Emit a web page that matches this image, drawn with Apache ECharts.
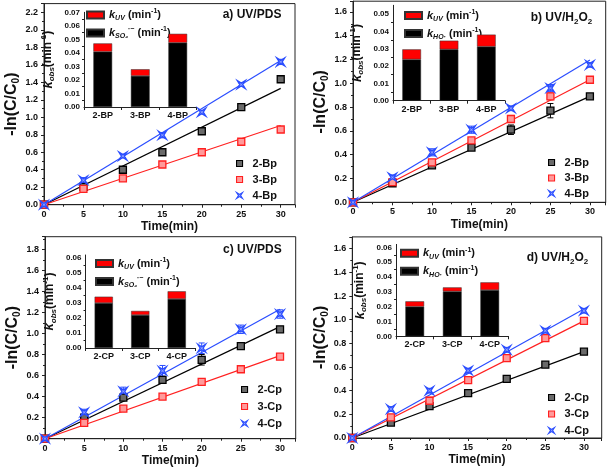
<!DOCTYPE html>
<html><head><meta charset="utf-8">
<script src="https://cdn.jsdelivr.net/npm/echarts@6/dist/echarts.min.js"></script>
<style>html,body{margin:0;padding:0;background:#fff}#c{width:608px;height:468px}</style>
</head><body><div id="c"></div>
<script>
// ---------- DATA ----------
const times = [0, 5, 10, 15, 20, 25, 30];
// panel a: UV/PDS, bromophenols
const a_2Bp = [0, 0.205, 0.40, 0.60, 0.84, 1.115, 1.435];
const a_3Bp = [0, 0.18, 0.30, 0.46, 0.60, 0.72, 0.86];
const a_4Bp = [0, 0.28, 0.556, 0.795, 1.058, 1.374, 1.633];
const a_fitEnd = [1.33, 0.906, 1.65];
const a_err2 = [0, 0.01, 0.02, 0.02, 0.03, 0.02, 0.02];
const a_err3 = [0, 0.01, 0.01, 0.03, 0.01, 0.02, 0.02];
const a_err4 = [0, 0.03, 0.02, 0.03, 0.02, 0.02, 0.03];
// panel b: UV/H2O2, bromophenols
const b_2Bp = [0, 0.16, 0.31, 0.46, 0.61, 0.77, 0.89];
const b_3Bp = [0, 0.17, 0.336, 0.52, 0.70, 0.89, 1.03];
const b_4Bp = [0, 0.21, 0.42, 0.61, 0.79, 0.96, 1.155];
const b_fitEnd = [0.89, 1.03, 1.196];
const b_err2 = [0, 0.01, 0.01, 0.02, 0.04, 0.06, 0.01];
const b_err3 = [0, 0.01, 0.02, 0.02, 0.03, 0.03, 0.02];
const b_err4 = [0, 0.02, 0.03, 0.03, 0.02, 0.03, 0.02];
// panel c: UV/PDS, chlorophenols
const c_2Cp = [0, 0.20, 0.39, 0.56, 0.75, 0.88, 1.04];
const c_3Cp = [0, 0.15, 0.285, 0.40, 0.54, 0.66, 0.78];
const c_4Cp = [0, 0.25, 0.45, 0.646, 0.86, 1.04, 1.185];
const c_fitEnd = [1.065, 0.79, 1.23];
const c_err2 = [0, 0.01, 0.02, 0.02, 0.05, 0.02, 0.02];
const c_err3 = [0, 0.01, 0.02, 0.02, 0.01, 0.02, 0.01];
const c_err4 = [0, 0.03, 0.04, 0.05, 0.05, 0.04, 0.04];
// panel d: UV/H2O2, chlorophenols
const d_2Cp = [0, 0.13, 0.27, 0.38, 0.50, 0.62, 0.73];
const d_3Cp = [0, 0.175, 0.315, 0.49, 0.676, 0.845, 0.99];
const d_4Cp = [0, 0.245, 0.40, 0.57, 0.746, 0.907, 1.076];
const d_fitEnd = [0.73, 0.99, 1.09];
const d_err2 = [0, 0.01, 0.02, 0.01, 0.01, 0.01, 0.01];
const d_err3 = [0, 0.02, 0.03, 0.02, 0.01, 0.02, 0.01];
const d_err4 = [0, 0.02, 0.02, 0.02, 0.02, 0.02, 0.02];
// inset bars (k_obs stacks)
const bpCats = ['2-BP', '3-BP', '4-BP'];
const cpCats = ['2-CP', '3-CP', '4-CP'];
const a_kRad = [0.0409, 0.023, 0.0475];
const a_kUV  = [0.0061, 0.0049, 0.0066];
const b_kRad = [0.0238, 0.0296, 0.0312];
const b_kUV  = [0.0058, 0.0050, 0.0069];
const c_kRad = [0.030, 0.022, 0.0327];
const c_kUV  = [0.0042, 0.0027, 0.0051];
const d_kRad = [0.020, 0.0303, 0.0312];
const d_kUV  = [0.0036, 0.0027, 0.0052];
const bpNames = ['2-Bp', '3-Bp', '4-Bp'];
const cpNames = ['2-Cp', '3-Cp', '4-Cp'];

// ---------- STYLE / LAYOUT ----------
const FONT = 'Arial, "Liberation Sans", sans-serif';
const COLORS = ['#000000', '#ff2020', '#2a4dff'];
const FILLS = ['#6a6a6a', '#ff9a9a', '#8fa0ff'];
const SYMS = ['rect', 'rect',
  'path://M0,0 L5,3.2 L10,0 L6.8,5 L10,10 L5,6.8 L0,10 L3.2,5 Z'];

const panels = [
  {vals:[a_2Bp,a_3Bp,a_4Bp], errs:[a_err2,a_err3,a_err4], fit:a_fitEnd, names:bpNames,
   grid:{left:44, top:3.6, width:251, height:201.1}, xmax:31.81, ymax:2.3,
   inset:{left:84, top:12.3, width:112.5, height:94.7}, imax:0.07, iint:0.01,
   cats:bpCats, kRad:a_kRad, kUV:a_kUV, radName:'kSO4',
   ilegend:{left:86, top:8}, legend:{left:236, top:158, gap:4},
   title:{text:'a) UV/PDS', left:222.7, top:9}},
  {vals:[b_2Bp,b_3Bp,b_4Bp], errs:[b_err2,b_err3,b_err4], fit:b_fitEnd, names:bpNames,
   grid:{left:353, top:1.2, width:252.7, height:201.1}, xmax:32, ymax:1.69,
   inset:{left:393, top:5.3, width:112, height:95.4}, imax:0.055, iint:0.01,
   cats:bpCats, kRad:b_kRad, kUV:b_kUV, radName:'kHO',
   ilegend:{left:404, top:8.5}, legend:{left:548, top:157, gap:3.5},
   title:{text:'b) UV/H{sub|2}O{sub|2}', left:530.7, top:10}},
  {vals:[c_2Cp,c_3Cp,c_4Cp], errs:[c_err2,c_err3,c_err4], fit:c_fitEnd, names:cpNames,
   grid:{left:45, top:236.7, width:250.7, height:202}, xmax:32, ymax:1.92,
   inset:{left:85.5, top:255, width:109.5, height:93}, imax:0.062, iint:0.01,
   cats:cpCats, kRad:c_kRad, kUV:c_kUV, radName:'kSO4',
   ilegend:{left:95, top:256.5}, legend:{left:241, top:384, gap:5},
   title:{text:'c) UV/PDS', left:223, top:244}},
  {vals:[d_2Cp,d_3Cp,d_4Cp], errs:[d_err2,d_err3,d_err4], fit:d_fitEnd, names:cpNames,
   grid:{left:352.3, top:236.9, width:249.4, height:201.1}, xmax:32.3, ymax:1.7,
   inset:{left:396, top:244.4, width:112.5, height:91.9}, imax:0.062, iint:0.01,
   cats:cpCats, kRad:d_kRad, kUV:d_kUV, radName:'kHO',
   ilegend:{left:400, top:246.3}, legend:{left:548, top:392, gap:4.5},
   title:{text:'d) UV/H{sub|2}O{sub|2}', left:526.7, top:250}}
];

const richBase = {
  k:{fontStyle:'italic', fontWeight:'bold', fontSize:11, fontFamily:FONT, lineHeight:14, verticalAlign:'middle'},
  n:{fontWeight:'bold', fontSize:11, fontFamily:FONT, lineHeight:14, verticalAlign:'middle'},
  sub:{fontStyle:'italic', fontWeight:'bold', fontSize:7, fontFamily:FONT, lineHeight:14, verticalAlign:'bottom'},
  sup:{fontWeight:'bold', fontSize:7, fontFamily:FONT, lineHeight:14, verticalAlign:'top'}
};
const legendFmt = {
  kUV:'{k|k}{sub|UV}{n| (min}{sup|-1}{n|)}',
  kSO4:'{k|k}{sub|SO₄}{sup|·−}{n| (min}{sup|-1}{n|)}',
  kHO:'{k|k}{sub|HO·}{n| (min}{sup|-1}{n|)}'
};

const grids = [], xAxes = [], yAxes = [], series = [], legends = [], titles = [];

panels.forEach((p, pi) => {
  const gi = grids.length;
  grids.push(Object.assign({show:true, borderColor:'#222', borderWidth:1, containLabel:false}, p.grid));
  xAxes.push({type:'value', gridIndex:gi, min:0, max:p.xmax, interval:5,
    axisLine:{lineStyle:{color:'#222', width:1}},
    axisTick:{inside:false, length:3, lineStyle:{color:'#222'}},
    minorTick:{show:true, splitNumber:2, length:2, lineStyle:{color:'#222'}},
    splitLine:{show:false},
    axisLabel:{fontFamily:FONT, fontWeight:'bold', fontSize:9, color:'#111', margin:5, showMaxLabel:false},
    name:'Time(min)', nameLocation:'middle', nameGap:16,
    nameTextStyle:{fontFamily:FONT, fontWeight:'bold', fontSize:12, color:'#111'}});
  yAxes.push({type:'value', gridIndex:gi, min:0, max:p.ymax, interval:0.2,
    axisLine:{show:true, lineStyle:{color:'#222', width:1}},
    axisTick:{inside:false, length:3, lineStyle:{color:'#222'}},
    minorTick:{show:true, splitNumber:2, length:2, lineStyle:{color:'#222'}},
    splitLine:{show:false},
    axisLabel:{fontFamily:FONT, fontWeight:'bold', fontSize:9, color:'#111', margin:6, showMaxLabel:false,
      formatter:v => v.toFixed(1)},
    name:'-ln(C/C{s|0})', nameLocation:'middle', nameGap:21, nameRotate:90,
    nameTextStyle:{fontFamily:FONT, fontWeight:'bold', fontSize:16, color:'#111',
      rich:{s:{fontFamily:FONT, fontWeight:'bold', fontSize:10, verticalAlign:'bottom', lineHeight:19}}}});
  p.vals.forEach((vals, si) => {
    series.push({type:'custom', xAxisIndex:gi, yAxisIndex:gi, z:3, silent:true,
      data: times.map((t, i) => [t, vals[i], p.errs[si][i]]),
      renderItem:(params, api) => {
        const x = api.value(0), y = api.value(1), e = api.value(2);
        if (!e) return null;
        const a = api.coord([x, y - e]), b = api.coord([x, y + e]);
        const st = {stroke:COLORS[si], lineWidth:1};
        return {type:'group', children:[
          {type:'line', shape:{x1:a[0], y1:a[1], x2:b[0], y2:b[1]}, style:st},
          {type:'line', shape:{x1:a[0]-3, y1:a[1], x2:a[0]+3, y2:a[1]}, style:st},
          {type:'line', shape:{x1:b[0]-3, y1:b[1], x2:b[0]+3, y2:b[1]}, style:st}]};
      }});
    series.push({type:'line', name:'fit'+pi+'-'+si, xAxisIndex:gi, yAxisIndex:gi, z:2,
      data:[[times[0], 0], [times[times.length-1], p.fit[si]]], showSymbol:false, silent:true,
      lineStyle:{color:COLORS[si], width:1.2}});
    series.push({type:'scatter', name:p.names[si], xAxisIndex:gi, yAxisIndex:gi, z:4,
      data: times.map((t, i) => [t, vals[i]]), symbol:SYMS[si], symbolSize: si === 2 ? 8 : 7,
      itemStyle:{color:FILLS[si], borderColor:COLORS[si], borderWidth:1.3, opacity:1}});
  });
  legends.push({left:p.legend.left, top:p.legend.top, orient:'vertical',
    data:p.names.map((n, si) => ({name:n, icon:SYMS[si],
      itemStyle:{color:FILLS[si], borderColor:COLORS[si], borderWidth:1.1}})),
    itemWidth:6, itemHeight:6, itemGap:p.legend.gap + 1, selectedMode:false, padding:0,
    textStyle:{fontFamily:FONT, fontWeight:'bold', fontSize:11, color:'#111', lineHeight:9, padding:[0,0,0,5]}});
  titles.push({text:p.title.text, left:p.title.left, top:p.title.top, padding:0,
    textStyle:{fontFamily:FONT, fontWeight:'bold', fontSize:12, color:'#111',
      rich:{sub:{fontFamily:FONT, fontWeight:'bold', fontSize:8, verticalAlign:'bottom', lineHeight:16}}}});

  // inset
  const ii = grids.length;
  grids.push(Object.assign({show:false, containLabel:false}, p.inset));
  xAxes.push({type:'category', gridIndex:ii, data:p.cats,
    axisLine:{lineStyle:{color:'#222', width:1}},
    axisTick:{show:true, alignWithLabel:false, length:3, lineStyle:{color:'#222'}},
    axisLabel:{fontFamily:FONT, fontWeight:'bold', fontSize:9, color:'#111', margin:4}});
  yAxes.push({type:'value', gridIndex:ii, min:0, max:p.imax, interval:p.iint,
    axisLine:{show:true, lineStyle:{color:'#222', width:1}},
    axisTick:{inside:false, length:3, lineStyle:{color:'#222'}},
    minorTick:{show:true, splitNumber:2, length:2, lineStyle:{color:'#222'}},
    splitLine:{show:false},
    axisLabel:{fontFamily:FONT, fontWeight:'bold', fontSize:8, color:'#111', margin:4, showMaxLabel:p.imax === 0.07,
      formatter:v => v.toFixed(2)},
    name:'{k|k}{sub|obs}{n|(min}{sup|-1}{n|)}', nameLocation:'middle', nameGap:28, nameRotate:90,
    nameTextStyle:{fontFamily:FONT, fontWeight:'bold', fontSize:12, color:'#111',
      rich:{k:{fontStyle:'italic', fontWeight:'bold', fontSize:13, fontFamily:FONT, lineHeight:16},
            n:{fontWeight:'bold', fontSize:12, fontFamily:FONT, lineHeight:16},
            sub:{fontStyle:'italic', fontWeight:'bold', fontSize:8, fontFamily:FONT, lineHeight:16, verticalAlign:'bottom'},
            sup:{fontWeight:'bold', fontSize:8, fontFamily:FONT, lineHeight:16, verticalAlign:'top'}}}});
  series.push({type:'bar', name:p.radName, xAxisIndex:ii, yAxisIndex:ii, stack:'k'+pi, barWidth:'50%', z:6,
    data:p.kRad, itemStyle:{color:'#000', borderColor:'#333', borderWidth:0.5}});
  series.push({type:'bar', name:'kUV', xAxisIndex:ii, yAxisIndex:ii, stack:'k'+pi, barWidth:'50%', z:6,
    data:p.kUV, itemStyle:{color:'#ff0000', borderColor:'#333', borderWidth:0.5}});
  legends.push({left:p.ilegend.left, top:p.ilegend.top, orient:'vertical', data:['kUV', p.radName],
    itemWidth:17, itemHeight:7, itemGap:4, selectedMode:false, padding:0, icon:'rect',
    formatter:name => legendFmt[name],
    textStyle:{fontFamily:FONT, fontWeight:'bold', fontSize:11, color:'#111', padding:[0,0,0,0], rich:richBase}});
});

const chart = echarts.init(document.getElementById('c'), null, {renderer:'canvas'});
chart.setOption({animation:false, backgroundColor:'#fff', title:titles, grid:grids, xAxis:xAxes, yAxis:yAxes,
  legend:legends, series:series});
</script></body></html>
